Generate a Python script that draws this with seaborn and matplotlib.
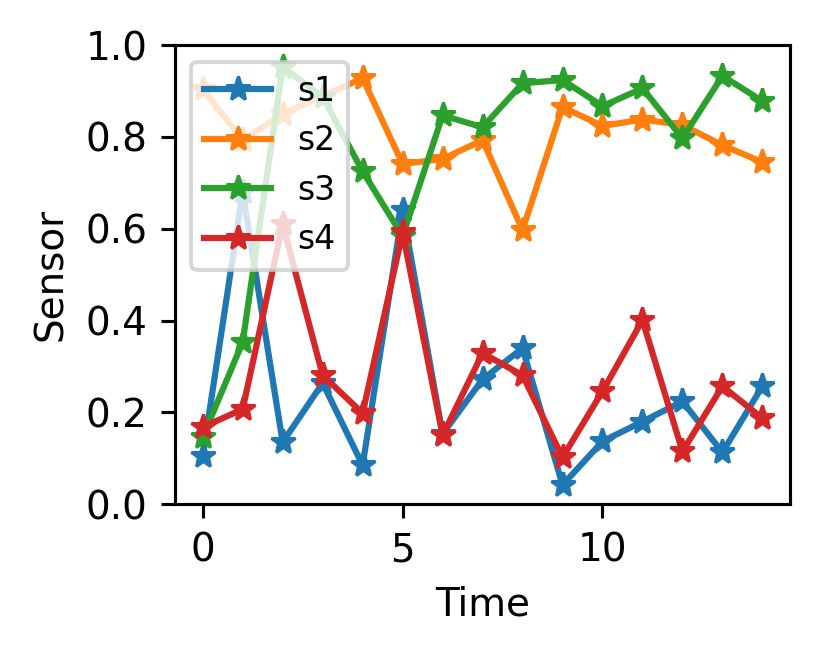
import numpy as np
import pandas as pd
import matplotlib
matplotlib.use('Agg')
import matplotlib.pyplot as plt
import seaborn as sns

time = list(range(15))
s1 = [0.105, 0.68, 0.135, 0.264, 0.085, 0.64, 0.153, 0.272, 0.34, 0.042, 0.137, 0.18, 0.224, 0.113, 0.257]
s2 = [0.904, 0.793, 0.85, 0.889, 0.928, 0.741, 0.752, 0.793, 0.597, 0.865, 0.824, 0.838, 0.826, 0.782, 0.745]
s3 = [0.146, 0.353, 0.952, 0.887, 0.725, 0.584, 0.847, 0.821, 0.917, 0.924, 0.867, 0.906, 0.797, 0.933, 0.878]
s4 = [0.168, 0.207, 0.61, 0.281, 0.198, 0.592, 0.15, 0.329, 0.281, 0.102, 0.246, 0.401, 0.115, 0.257, 0.187]

series = {'s1': s1, 's2': s2, 's3': s3, 's4': s4}
colors = ['#1f77b4', '#ff7f0e', '#2ca02c', '#d62728']

dpi = 280
fig, ax = plt.subplots(figsize=(832 / dpi, 654 / dpi), dpi=dpi)
fig.subplots_adjust(left=0.21, right=0.95, top=0.931, bottom=0.229)

for (name, vals), c in zip(series.items(), colors):
    sns.lineplot(x=time, y=vals, ax=ax, label=name, color=c, marker='*',
                 markersize=6.5, markeredgecolor=c, markeredgewidth=0.8, linewidth=1.6)

ax.set_ylim(0, 1)
ax.set_xticks([0, 5, 10])
ax.set_xlabel('Time')
ax.set_ylabel('Sensor')
ax.legend(loc='upper left', fontsize=8.5)

fig.savefig('out.png', dpi=dpi)
